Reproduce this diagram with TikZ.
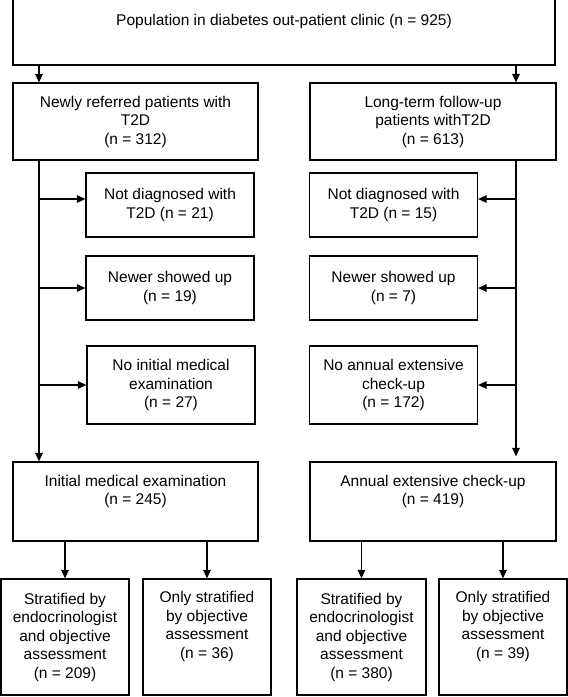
\documentclass[tikz,border=0pt]{standalone}
\usepackage{fontspec}
\setmainfont{Liberation Sans}
\usetikzlibrary{arrows.meta,positioning}

\begin{document}
\begin{tikzpicture}[x=1pt,y=-1pt,
    font=\fontsize{15.5}{18.5}\selectfont,
    box/.style={draw, line width=1.2pt, inner sep=0pt, align=center},
    side/.style={box, minimum width=168pt, minimum height=64pt},
    leaf/.style={box, minimum width=128pt, minimum height=116pt},
    txt/.style={inner sep=0pt, align=center},
    arr/.style={line width=1.2pt, -{Triangle[length=8.5pt,width=7.5pt]}}]
	\useasboundingbox (0,0) rectangle (568,697);
	\node[box, minimum width=542pt, minimum height=66pt] (pop) at (284,32) {};
	\node[txt] (poptxt) at ([yshift=-23pt]pop.north) {Population in diabetes out-patient clinic (n = 925)};
	\node[box, minimum width=245pt, minimum height=77pt] (new) at (135.5,121.5) {Newly referred patients with\\T2D\\(n = 312)};
	\node[box, minimum width=246pt, minimum height=77pt] (long) at (433,121.5) {Long-term follow-up\\patients withT2D\\(n = 613)};
	\node[side] (nodiagL) at (170,205) {Not diagnosed with\\T2D (n = 21)};
	\node[side] (showL) at (170,288) {Newer showed up\\(n = 19)};
	\node[side, minimum height=78pt] (noexamL) at (171,385) {No initial medical\\examination\\(n = 27)};
	\node[side] (nodiagR) at (393.5,205) {Not diagnosed with\\T2D (n = 15)};
	\node[side] (showR) at (393.5,288) {Newer showed up\\(n = 7)};
	\node[side, minimum height=78pt] (noexamR) at (393.5,385) {No annual extensive\\check-up\\(n = 172)};
	\node[box, minimum width=245pt, minimum height=79pt] (init) at (135.5,501.5) {};
	\node[txt] (inittxt) at ([yshift=-30pt]init.north) {Initial medical examination\\(n = 245)};
	\node[box, minimum width=246pt, minimum height=79pt] (annual) at (433,501.5) {};
	\node[txt] (annualtxt) at ([yshift=-30pt]annual.north) {Annual extensive check-up\\(n = 419)};
	\node[leaf] (stratL) at (65,637) {Stratified by\\endocrinologist\\and objective\\assessment\\(n = 209)};
	\node[leaf] (onlyL) at (207,637) {};
	\node[txt] (onlyLtxt) at ([yshift=-48pt]onlyL.north) {Only stratified\\by objective\\assessment\\(n = 36)};
	\node[leaf, minimum width=129pt] (stratR) at (361.5,637) {Stratified by\\endocrinologist\\and objective\\assessment\\(n = 380)};
	\node[leaf] (onlyR) at (503,637) {};
	\node[txt] (onlyRtxt) at ([yshift=-48pt]onlyR.north) {Only stratified\\by objective\\assessment\\(n = 39)};
	\coordinate (ltop) at (39,0);
	\coordinate (rtop) at (516,0);
	\coordinate (inL1) at ([yshift=6pt]nodiagL.west);
	\coordinate (inR1) at ([yshift=6pt]nodiagR.east);
	\draw[arr] (ltop |- pop.south) -- (ltop |- new.north);
	\draw[arr] (rtop |- pop.south) -- (rtop |- long.north);
	\draw[arr] (ltop |- new.south) -- (ltop |- init.north);
	\draw[arr] (rtop |- long.south) -- ([yshift=5pt]rtop |- annual.north);
	\draw[arr] (ltop |- inL1) -- (inL1);
	\draw[arr] (ltop |- showL.west) -- (showL.west);
	\draw[arr] (ltop |- noexamL.west) -- (noexamL.west);
	\draw[arr] (rtop |- inR1) -- (inR1);
	\draw[arr] (rtop |- showR.east) -- (showR.east);
	\draw[arr] (rtop |- noexamR.east) -- (noexamR.east);
	\draw[arr] (stratL.north |- init.south) -- (stratL.north);
	\draw[arr] (onlyL.north |- init.south) -- (onlyL.north);
	\draw[arr] (stratR.north |- annual.south) -- (stratR.north);
	\draw[arr] (onlyR.north |- annual.south) -- (onlyR.north);
\end{tikzpicture}
\end{document}
